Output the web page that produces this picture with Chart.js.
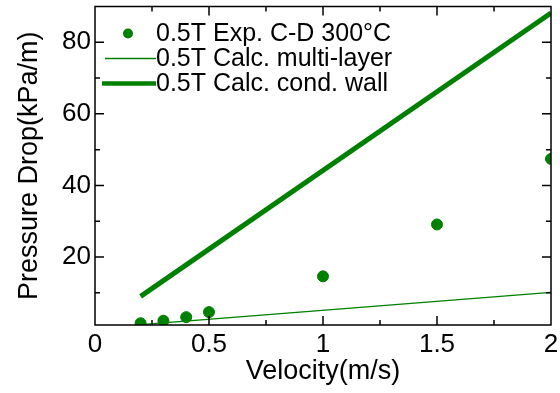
<!DOCTYPE html>
<html>
<head>
<meta charset="utf-8">
<script src="https://cdn.jsdelivr.net/npm/chart.js@4/dist/chart.umd.min.js"></script>
<style>
  html, body { margin: 0; padding: 0; background: #fff; }
  #wrap { width: 560px; height: 393px; }
</style>
</head>
<body>
<div id="wrap"><canvas id="pdChart" width="560" height="393"></canvas></div>
<script>
// values
var expVelocity = [0.2, 0.3, 0.4, 0.5, 1.0, 1.5, 2.0];
var expDrop = [1.5, 2.2, 3.2, 4.6, 14.6, 29.1, 47.4];
var calcVelocity = [0.2, 2.0];
var multiLayerDrop = [1.1, 10.1];
var condWallDrop = [9.0, 88.2];
var xTicks = [0, 0.5, 1, 1.5, 2];
var yTicks = [20, 40, 60, 80];
var labels = ['0.5T Exp. C-D 300°C', '0.5T Calc. multi-layer', '0.5T Calc. cond. wall'];

var green = '#008000';
var fontFam = '"Liberation Sans", Arial, Helvetica, sans-serif';

function toXY(xs, ys) {
    return xs.map(function(x, i) { return { x: x, y: ys[i] }; });
}

// inward ticks on all four sides plus the frame
var frameTicks = {
    id: 'frameTicks',
    afterDatasetsDraw: function(chart) {
        var ctx = chart.ctx, a = chart.chartArea;
        var xs = chart.scales.x, ys = chart.scales.y;
        ctx.save();
        ctx.strokeStyle = '#000';
        ctx.lineWidth = 1.5;
        ctx.beginPath();
        for (var v = 0.25; v < 2; v += 0.25) {
            var px = xs.getPixelForValue(v);
            var len = (Math.abs(v * 2 - Math.round(v * 2)) < 1e-6) ? 9 : 5;
            ctx.moveTo(px, a.bottom); ctx.lineTo(px, a.bottom - len);
            ctx.moveTo(px, a.top); ctx.lineTo(px, a.top + len);
        }
        for (var w = 10; w < 90; w += 10) {
            var py = ys.getPixelForValue(w);
            var l2 = (w % 20 === 0) ? 9 : 5;
            ctx.moveTo(a.left, py); ctx.lineTo(a.left + l2, py);
            ctx.moveTo(a.right, py); ctx.lineTo(a.right - l2, py);
        }
        ctx.stroke();
        ctx.strokeRect(a.left, a.top, a.right - a.left, a.bottom - a.top);
        ctx.restore();
    }
};

// legend in the upper left of the plot, as in the original
var innerLegend = {
    id: 'innerLegend',
    afterDraw: function(chart) {
        var ctx = chart.ctx, a = chart.chartArea;
        var x0 = a.left, y0 = a.top;
        ctx.save();
        ctx.font = '25px ' + fontFam;
        ctx.textBaseline = 'middle';
        var rows = [y0 + 27, y0 + 52, y0 + 77];
        ctx.fillStyle = green;
        ctx.beginPath();
        ctx.arc(x0 + 33, rows[0], 5, 0, Math.PI * 2);
        ctx.fill();
        ctx.strokeStyle = green;
        ctx.lineWidth = 1.3;
        ctx.beginPath();
        ctx.moveTo(x0 + 10, rows[1]); ctx.lineTo(x0 + 61, rows[1]);
        ctx.stroke();
        ctx.lineWidth = 4.5;
        ctx.beginPath();
        ctx.moveTo(x0 + 7, rows[2]); ctx.lineTo(x0 + 61, rows[2]);
        ctx.stroke();
        ctx.fillStyle = '#000';
        for (var i = 0; i < labels.length; i++) {
            ctx.fillText(labels[i], x0 + 61, rows[i] + 1);
        }
        ctx.restore();
    }
};

new Chart(document.getElementById('pdChart'), {
    type: 'scatter',
    data: {
        datasets: [{
            label: labels[0],
            data: toXY(expVelocity, expDrop),
            backgroundColor: green,
            borderColor: green,
            pointRadius: 5.5,
            showLine: false
        }, {
            label: labels[1],
            data: toXY(calcVelocity, multiLayerDrop),
            borderColor: green,
            borderWidth: 1.3,
            pointRadius: 0,
            showLine: true
        }, {
            label: labels[2],
            data: toXY(calcVelocity, condWallDrop),
            borderColor: green,
            borderWidth: 5,
            pointRadius: 0,
            showLine: true
        }]
    },
    options: {
        responsive: false,
        animation: false,
        events: [],
        layout: { padding: { top: 6, right: 9, left: 0, bottom: 0 } },
        plugins: {
            legend: { display: false },
            tooltip: { enabled: false }
        },
        scales: {
            x: {
                type: 'linear',
                min: 0,
                max: 2,
                grid: { display: false, drawTicks: false },
                border: { display: false },
                afterBuildTicks: function(s) { s.ticks = xTicks.map(function(v) { return { value: v }; }); },
                afterFit: function(s) { s.height = 68; s.paddingLeft = 0; s.paddingRight = 0; },
                ticks: {
                    padding: 4,
                    color: '#000',
                    font: { family: fontFam, size: 26 },
                    callback: function(v) { return String(v); }
                },
                title: {
                    display: true,
                    text: 'Velocity(m/s)',
                    color: '#000',
                    font: { family: fontFam, size: 27 },
                    padding: { top: 0, bottom: 5 }
                }
            },
            y: {
                type: 'linear',
                min: 1,
                max: 90,
                grid: { display: false, drawTicks: false },
                border: { display: false },
                afterBuildTicks: function(s) { s.ticks = yTicks.map(function(v) { return { value: v }; }); },
                afterFit: function(s) { s.width = 95; s.paddingTop = 0; s.paddingBottom = 0; },
                ticks: {
                    padding: 4,
                    color: '#000',
                    font: { family: fontFam, size: 26 }
                },
                title: {
                    display: true,
                    text: 'Pressure Drop(kPa/m)',
                    color: '#000',
                    font: { family: fontFam, size: 27 },
                    padding: { top: 13, bottom: 0 }
                }
            }
        }
    },
    plugins: [frameTicks, innerLegend]
});
</script>
</body>
</html>
